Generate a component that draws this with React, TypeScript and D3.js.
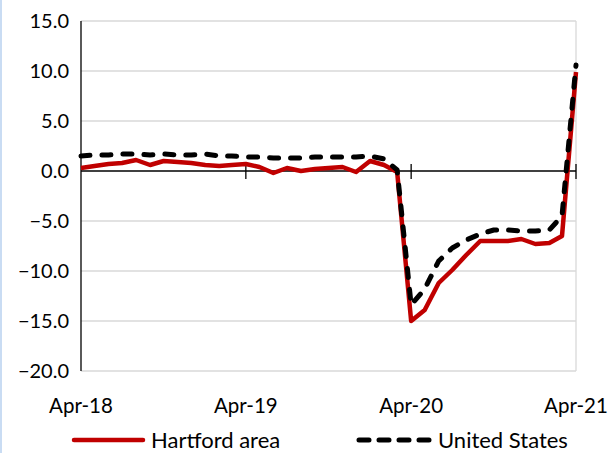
import * as d3 from "d3";
import React from "react";

// monthly, Apr-18 .. Apr-21
const months = d3.timeMonth.range(new Date(2018, 3, 1), new Date(2021, 4, 1));

const hartford = [
  0.3, 0.5, 0.7, 0.8, 1.1, 0.6, 1.0, 0.9, 0.8, 0.6, 0.5, 0.6,
  0.7, 0.4, -0.2, 0.3, 0.0, 0.2, 0.3, 0.4, -0.1, 1.0, 0.6, -0.1,
  -15.0, -13.9, -11.2, -9.9, -8.4, -7.0, -7.0, -7.0, -6.8, -7.3, -7.2, -6.5,
  9.9,
];
const unitedStates = [
  1.5, 1.6, 1.6, 1.7, 1.7, 1.6, 1.7, 1.6, 1.6, 1.7, 1.5, 1.5,
  1.4, 1.4, 1.3, 1.3, 1.3, 1.4, 1.4, 1.4, 1.4, 1.5, 1.2, 0.1,
  -13.4, -11.8, -9.0, -7.7, -6.9, -6.3, -5.9, -5.9, -6.0, -6.0, -5.9, -4.5,
  10.6,
];
const yTicks = [15, 10, 5, 0, -5, -10, -15, -20];
const xTicks = [new Date(2018, 3, 1), new Date(2019, 3, 1), new Date(2020, 3, 1), new Date(2021, 3, 1)];
const seriesNames = ["Hartford area", "United States"];

const W = 609, H = 453;
const margin = { top: 21, right: 33, bottom: 82, left: 81 };
const FONT = "Lato, 'Open Sans', sans-serif";

export default function App() {
  const x = d3.scaleTime()
    .domain([months[0], months[months.length - 1]])
    .range([margin.left, W - margin.right]);
  const y = d3.scaleLinear().domain([-20, 15]).range([H - margin.bottom, margin.top]);

  const line = d3.line<number>()
    .x((_, i) => x(months[i]))
    .y(d => y(d));

  const fmt = d3.timeFormat("%b-%y");
  const [x0, x1] = x.range();

  return (
    <svg width={W} height={H} style={{ position: "absolute", left: 0, top: 0, background: "#fff" }}
      fontFamily={FONT}>
      <line x1={1} x2={1} y1={0} y2={H} stroke="#c9dcf3" strokeWidth={2} />

      {/* grid */}
      {yTicks.filter(t => t !== 0).map(t => (
        <line key={t} x1={x0} x2={x1} y1={y(t)} y2={y(t)} stroke="#d9d9d9" strokeWidth={1.3} />
      ))}
      <line x1={x1} x2={x1} y1={y(15)} y2={y(-20)} stroke="#d9d9d9" strokeWidth={1.3} />

      {/* y axis */}
      <line x1={x0} x2={x0} y1={y(15)} y2={y(-20)} stroke="#000" strokeWidth={1.3} />
      {yTicks.map(t => (
        <text key={t} x={x0 - 12} y={y(t)} dy="0.35em" textAnchor="end" fontSize={20} fill="#000">
          {d3.format(".1f")(t)}
        </text>
      ))}

      {/* x axis at zero */}
      <line x1={x0} x2={x1} y1={y(0)} y2={y(0)} stroke="#000" strokeWidth={1.3} />
      {xTicks.slice(1).map(d => (
        <line key={+d} x1={x(d)} x2={x(d)} y1={y(0) - 7} y2={y(0) + 8} stroke="#000" strokeWidth={1.3} />
      ))}
      {xTicks.map(d => (
        <text key={+d} x={x(d)} y={406} dy="0.35em" textAnchor="middle" fontSize={20.5} fill="#000">
          {fmt(d)}
        </text>
      ))}

      {/* series */}
      <path d={line(hartford) ?? ""} fill="none" stroke="#c00000" strokeWidth={4.5} strokeLinejoin="round" />
      <path d={line(unitedStates) ?? ""} fill="none" stroke="#000" strokeWidth={5}
        strokeDasharray="9 12" strokeLinecap="round" strokeLinejoin="round" />

      {/* legend */}
      <g>
        <line x1={74} x2={143} y1={440} y2={440} stroke="#c00000" strokeWidth={4.5} strokeLinecap="round" />
        <text x={151} y={440} dy="0.35em" fontSize={22} fill="#000">{seriesNames[0]}</text>
        <line x1={359} x2={431} y1={440} y2={440} stroke="#000" strokeWidth={5}
          strokeDasharray="10 10" strokeLinecap="round" />
        <text x={438} y={440} dy="0.35em" fontSize={22} fill="#000">{seriesNames[1]}</text>
      </g>
    </svg>
  );
}
